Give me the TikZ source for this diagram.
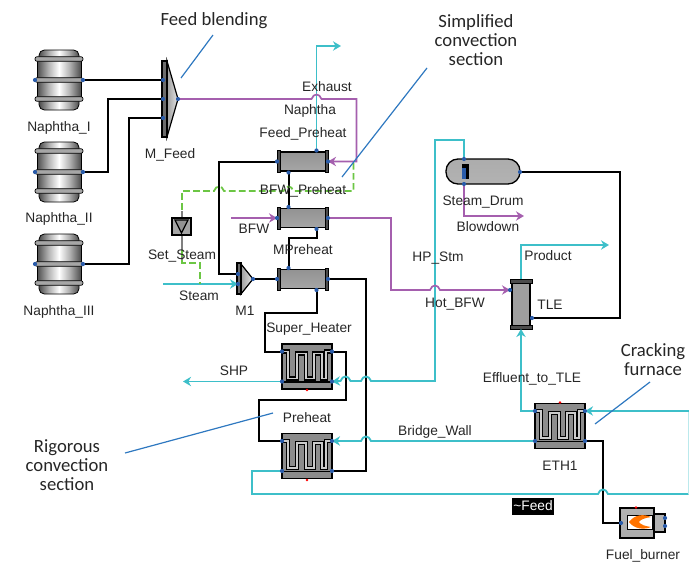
\documentclass[tikz,border=0pt]{standalone}
\usepackage{fontspec}
\setmainfont{Liberation Sans}
\newfontfamily\notefont{Carlito}
\usetikzlibrary{arrows.meta}
\definecolor{cy}{HTML}{3DBFC9}
\definecolor{pu}{HTML}{A55FAE}
\definecolor{gr}{HTML}{6CC644}
\definecolor{an}{HTML}{2E78C0}
\definecolor{po}{HTML}{2A5CAA}
\definecolor{tx}{HTML}{262626}
\newcommand{\hb}[3]{-- ({#1-5*#3},#2) .. controls ({#1-3*#3},{#2-6}) and ({#1+3*#3},{#2-6}) .. ({#1+5*#3},#2)}
\pgfdeclareverticalshading{dummyunused}{10bp}{color(0bp)=(white); color(10bp)=(white)}
\pgfdeclarehorizontalshading{metal}{100bp}{color(0bp)=(black!75); color(25bp)=(black!70); color(38bp)=(black!30); color(50bp)=(white); color(62bp)=(black!30); color(75bp)=(black!70); color(100bp)=(black!75)}
\tikzset{
  x=0.75pt,y=-0.75pt,
  lbl/.style={font=\fontsize{10.3}{11}\selectfont,text=tx,inner sep=0pt,align=center,text height=7.5pt,text depth=2.2pt,yshift=-1.1pt},
  note/.style={font=\notefont\fontsize{14}{14.2}\selectfont,text=tx,inner sep=0pt,align=center},
  blk/.style={draw=black,line width=1.5pt,line join=miter},
  cyl/.style={draw=cy,line width=1.4pt},
  pul/.style={draw=pu,line width=1.25pt},
  grl/.style={draw=gr,line width=1.35pt,dash pattern=on 5pt off 2.5pt},
  anl/.style={draw=an,line width=0.9pt},
  tip/.style={-{Stealth[length=6pt,width=7pt]}},
  barrel/.pic={
    \shade[shading=metal,draw=black,line width=0.6pt,rounded corners=4pt]
       (-20,-30) rectangle (20,30);
    \shade[shading=metal,draw=black,line width=0.6pt] (-22,-21) rectangle (22,19);
    \foreach \yy in {-21,0,19}
      \shade[left color=gray!70,middle color=white,right color=gray!70,draw=black,line width=0.5pt,rounded corners=1.5pt]
         (-24,\yy-2.3) rectangle (24,\yy+2.3);
    \coordinate (-l) at (-24,0); \coordinate (-r) at (24,0);
  },
  hx/.pic={
    \shade[top color=gray!85,middle color=gray!20,bottom color=gray!70,draw=black,line width=1.1pt] (-23,-9.5) rectangle (23,9.5);
    \fill[black!70,draw=black,line width=0.7pt] (-25.5,-11) rectangle (-22.5,11);
    \fill[black!70,draw=black,line width=0.7pt] (22.5,-11) rectangle (25.5,11);
    \coordinate (-l) at (-25.5,0); \coordinate (-r) at (25.5,0);
    \coordinate (-t) at (14,-11); \coordinate (-tl) at (-14,-11);
    \coordinate (-b) at (14,11); \coordinate (-bl) at (-14,11);
  },
  furnace/.pic={
    \fill[gray!90,draw=black,line width=1.2pt] (-25,-22.5) rectangle (25,22.5);
    \draw[black,line width=3.2pt,line join=miter]
       (-25,-15) -- (-19,-15) -- (-19,12) -- (-10,12) -- (-10,-13) -- (-1,-13) -- (-1,12) -- (7,12) -- (7,-13) -- (15,-13) -- (15,12) -- (19,12) -- (19,-15) -- (25,-15);
    \draw[gray!40,line width=1.2pt,line join=miter]
       (-25,-15) -- (-19,-15) -- (-19,12) -- (-10,12) -- (-10,-13) -- (-1,-13) -- (-1,12) -- (7,12) -- (7,-13) -- (15,-13) -- (15,12) -- (19,12) -- (19,-15) -- (25,-15);
    \draw[black,line width=1.1pt] (-25,15.5) -- (25,15.5);
    \coordinate (-lt) at (-25,-15); \coordinate (-rt) at (25,-15);
    \coordinate (-lb) at (-25,15); \coordinate (-rb) at (25,15);
  },
  redmark/.style={fill=red,draw=none},
  portdot/.style={fill=po,draw=none},
}
\begin{document}
\begin{tikzpicture}
\useasboundingbox (0,0) rectangle (689,561);

% --- equipment ---
\pic (n1) at (59,80) {barrel};
\pic (n2) at (59,172) {barrel};
\pic (n3) at (59,264) {barrel};

% feed mixer
\shade[left color=gray!75,right color=gray!20,draw=black,line width=0.9pt]
   (167,61) -- (178,99) -- (167,137) -- cycle;
\fill[gray!85!black,draw=black,line width=0.9pt] (162,61) rectangle (167,137);
\coordinate (mf1) at (163,80); \coordinate (mf2) at (163,99); \coordinate (mf3) at (163,118); \coordinate (mfo) at (178,99);

% M1 mixer
\shade[left color=gray!75,right color=gray!20,draw=black,line width=0.9pt]
   (241,264) -- (253,279) -- (241,294) -- cycle;
\fill[gray!85!black,draw=black,line width=0.9pt] (237,263) rectangle (241,294);
\coordinate (m1a) at (238,274); \coordinate (m1b) at (238,284); \coordinate (m1o) at (253,279);

\pic (fp) at (302.5,161.5) {hx};
\pic (bp) at (302.5,218) {hx};
\pic (mp) at (302.5,279) {hx};

\pic (sh) at (307,366.5) {furnace};
\pic (ph) at (307,456) {furnace};
\pic (eth) at (560,426) {furnace};
\fill[redmark] (307,390) circle (1.4);
\fill[redmark] (307,480) circle (1.4);
\fill[redmark] (560,402.5) circle (1.4);

% steam drum
\shade[top color=gray!65,middle color=gray!12,bottom color=gray!60,draw=black,line width=1pt,rounded corners=9pt]
   (446,159) rectangle (520,184);
\fill[black] (462,164) rectangle (469,179);
\fill[po] (462,168) rectangle (466,179);
\coordinate (sdt) at (464,159); \coordinate (sdb) at (464,184); \coordinate (sdr) at (520,172);

% TLE
\shade[left color=gray!75,middle color=gray!10,right color=gray!75,draw=black,line width=1pt] (512,281) rectangle (530,327);
\fill[black!70,draw=black,line width=0.7pt] (510,279) rectangle (532,283);
\fill[black!70,draw=black,line width=0.7pt] (510,325) rectangle (532,329);
\coordinate (tlt) at (521,279); \coordinate (tlb) at (521,329); \coordinate (tll) at (510,290); \coordinate (tlr) at (532,318);

% set steam
\draw[gray,line width=0.9pt] (182,211) -- (182,218);
\draw[gray,line width=0.9pt] (182,235) -- (182,262);
\fill[gray!70,draw=black,line width=0.9pt] (172,218) rectangle (191,235);
\fill[gray!85,draw=black,line width=0.9pt] (175,220) -- (188,220) -- (181.5,233) -- cycle;

% burner
\shade[left color=gray!60,middle color=gray!15,right color=gray!60,draw=black,line width=0.9pt] (654,514) rectangle (665,532);
\shade[top color=gray!60,middle color=gray!25,bottom color=gray!65,draw=black,line width=0.9pt] (620,508) rectangle (654,538);
\fill[white,draw=black,line width=0.6pt] (627,515) rectangle (652,529);
\fill[orange!90!red] (629,522) .. controls (635,514) and (644,514) .. (651,517) .. controls (644,518) and (640,520) .. (639,522) .. controls (641,525) and (645,526) .. (651,527) .. controls (644,530) and (634,529) .. (629,522) -- cycle;
\fill[redmark] (636,507.5) circle (1.4);
\coordinate (fbl) at (621,523); \coordinate (fbr1) at (665,518); \coordinate (fbr2) at (665,526);
\coordinate (rgt) at (688.5,411); \coordinate (rgb) at (688.5,494);

% --- connectors ---
\draw[blk] (n1-r) -- (mf1);
\draw[blk] (n2-r) -- (108,172) -- (108,99) -- (mf2);
\draw[blk] (n3-r) -- (129,264) -- (129,118) -- (mf3);
\draw[blk] (fp-l) -- (219,161.5) -- (219,274) -- (m1a);
\draw[blk] (fp-bl) -- (bp-tl);
\draw[blk] (bp-b) -- (316.5,238) -- (288.5,238) -- (mp-tl);
\draw[blk] (m1o) -- (mp-l);
\draw[blk] (mp-r) -- (366,279) -- (366,471) -- (ph-rb);
\draw[blk] (mp-b) -- (316.5,313) -- (265,313) -- (265,351.5) -- (sh-lt);
\draw[blk] (sh-rt) -- (345.5,351.5) -- (345.5,400) -- (259,400) -- (259,441) -- (ph-lt);
\draw[blk] (eth-rb) -- (603,441) -- (603,523) -- (fbl);
\draw[blk] (tlr) -- (620,318) -- (620,172) -- (sdr);

\draw[cyl,tip] (fp-t) -- (316.5,46) -- (341,46);
\draw[cyl,tip] (163,284) -- (m1b);
\draw[cyl,tip] (sh-lb) -- (183,381.5);
\draw[cyl,tip] (sdt) -- (464,140) -- (435,140) -- (435,381) \hb{366}{381}{-1} \hb{345.5}{381}{-1} -- (sh-rb);
\draw[cyl,tip] (eth-lb) \hb{366}{441}{-1} -- (ph-rt);
\draw[cyl] (ph-lb) -- (252,471) -- (252,494) \hb{603}{494}{1} -- (rgb);
\draw[cy!35,line width=1pt] (rgb) -- (rgt);
\draw[cyl,tip] (rgt) -- (eth-rt);
\draw[cyl,tip] (eth-lt) -- (521,411) -- (tlb);
\draw[cyl,tip] (tlt) -- (521,245) -- (609,245);

\draw[pul,tip] (mfo) \hb{316.5}{99}{1} -- (356.5,99) -- (356.5,161.5) -- (fp-r);
\draw[pul,tip] (231,218) -- (bp-l);
\draw[pul,tip] (bp-r) -- (391,218) -- (391,290) \hb{435}{290}{1} -- (tll);
\draw[pul,tip] (sdb) -- (464,216) -- (524,216);

\draw[grl] (353.5,163) -- (353.5,191) \hb{288.5}{191}{-1} \hb{219}{191}{-1} -- (182,191) -- (182,211);
\draw[grl] (182,250) -- (182,263) -- (200,263) -- (200,284);

% --- ports ---
\foreach \p in {n1-l,n1-r,n2-l,n2-r,n3-l,n3-r,mf1,mf2,mf3,mfo,m1a,m1b,m1o,
   fp-l,fp-r,fp-t,fp-bl,bp-l,bp-r,bp-tl,bp-b,mp-l,mp-r,mp-tl,mp-b,
   sh-lt,sh-rt,sh-lb,sh-rb,ph-lt,ph-rt,ph-lb,ph-rb,eth-lt,eth-rt,eth-lb,eth-rb,
   sdt,sdb,sdr,tll,tlr,fbl,fbr1,fbr2}
  \fill[portdot] (\p) circle (2.1);

% --- annotation lines ---
\coordinate (a1a) at (181,78); \coordinate (a1b) at (213,35);
\coordinate (a2a) at (342,177); \coordinate (a2b) at (427,68);
\coordinate (a3a) at (125,453); \coordinate (a3b) at (273,413);
\coordinate (a4a) at (595,424); \coordinate (a4b) at (650,382);
\draw[anl] (a1a) -- (a1b);
\draw[anl] (a2a) -- (a2b);
\draw[anl] (a3a) -- (a3b);
\draw[anl] (a4a) -- (a4b);

% --- labels ---
\node[lbl] (tn1) at (59,126) {Naphtha\_I};
\node[lbl] (tn2) at (59,217) {Naphtha\_II};
\node[lbl] (tn3) at (59,310) {Naphtha\_III};
\node[lbl] (tmf) at (170,153) {M\_Feed};
\node[lbl] (tex) at (327,86) {Exhaust};
\node[lbl] (tna) at (310,109) {Naphtha};
\node[lbl] (tfp) at (303,132) {Feed\_Preheat};
\node[lbl] (tbp) at (303,189) {BFW\_Preheat};
\node[lbl] (tbf) at (254,228) {BFW};
\node[lbl] (tmp) at (303,249) {MPreheat};
\node[lbl] (tss) at (182,254) {Set\_Steam};
\node[lbl] (tst) at (199,295) {Steam};
\node[lbl] (tm1) at (245,310) {M1};
\node[lbl] (tsh) at (309,327) {Super\_Heater};
\node[lbl] (tsp) at (234,370) {SHP};
\node[lbl] (tph) at (307,417) {Preheat};
\node[lbl] (tbw) at (435,430) {Bridge\_Wall};
\node[lbl] (ths) at (438,256) {HP\_Stm};
\node[lbl] (thb) at (455,302) {Hot\_BFW};
\node[lbl] (tsd) at (483,200) {Steam\_Drum};
\node[lbl] (tbd) at (488,226) {Blowdown};
\node[lbl] (tpr) at (548,255) {Product};
\node[lbl] (ttl) at (550,304) {TLE};
\node[lbl] (tef) at (532,377) {Effluent\_to\_TLE};
\node[lbl] (tet) at (560,465) {ETH1};
\node[lbl,fill=black,text=white,inner xsep=1pt,inner ysep=1.5pt] (tfd) at (533,505) {\textasciitilde Feed};
\node[lbl] (tfb) at (643,554) {Fuel\_burner};

\node[note] (nfb) at (214,21) {Feed blending};
\node[note] (nsc) at (476,40) {Simplified\\convection\\section};
\node[note] (nrc) at (67,465) {Rigorous\\convection\\section};
\node[note] (ncf) at (653,359.5) {Cracking\\furnace};
\end{tikzpicture}
\end{document}
